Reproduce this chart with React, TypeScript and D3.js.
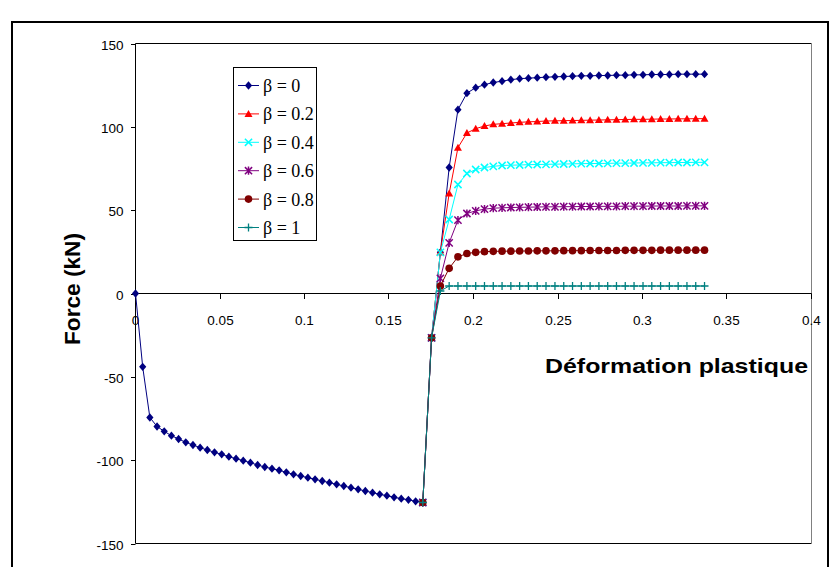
import React from "react";
import * as d3 from "d3";

// ---- data ----
const loadX = [0, 0.00425, 0.0085, 0.01275, 0.017, 0.02125, 0.0255, 0.02975, 0.034, 0.03825, 0.0425, 0.04675, 0.051, 0.05525, 0.0595, 0.06375, 0.068, 0.07225, 0.0765, 0.08075, 0.085, 0.08925, 0.0935, 0.09775, 0.102, 0.10625, 0.1105, 0.11475, 0.119, 0.12325, 0.1275, 0.13175, 0.136, 0.14025, 0.1445, 0.14875, 0.153, 0.15725, 0.1615, 0.16575, 0.17];
const loadY = [0, -44, -74.4, -79.8, -82.7, -85.3, -87.3, -89.3, -90.9, -92.5, -93.9, -95.3, -96.5, -97.9, -99.1, -100.3, -101.5, -102.9, -104.1, -105.1, -106.1, -107.3, -108.5, -109.5, -110.5, -111.5, -112.5, -113.5, -114.5, -115.5, -116.5, -117.5, -118.5, -119.5, -120.5, -121.3, -122.3, -123.1, -123.8, -124.7, -125.4];
const reloadX = [0.17, 0.1752, 0.1804, 0.1856, 0.1908, 0.1961, 0.2013, 0.2065, 0.2117, 0.2169, 0.2221, 0.2273, 0.2325, 0.2377, 0.2429, 0.2482, 0.2534, 0.2586, 0.2638, 0.269, 0.2742, 0.2794, 0.2846, 0.2898, 0.295, 0.3003, 0.3055, 0.3107, 0.3159, 0.3211, 0.3263, 0.3315, 0.3367];
const beta0 = [-125.4, -26.6, 24.7, 75.6, 110.3, 120.2, 123.5, 125.3, 126.6, 127.4, 128.3, 128.9, 129.2, 129.5, 129.8, 130.0, 130.2, 130.4, 130.6, 130.6, 130.8, 130.8, 131.0, 131.0, 131.2, 131.2, 131.4, 131.4, 131.4, 131.6, 131.6, 131.6, 131.6];
const beta02 = [-125.4, -26.6, 24.7, 60, 87.5, 96.3, 98.9, 100.5, 101.5, 101.9, 102.3, 102.7, 103.0, 103.2, 103.5, 103.6, 103.7, 103.8, 103.9, 104.0, 104.1, 104.2, 104.3, 104.4, 104.5, 104.5, 104.6, 104.7, 104.7, 104.8, 104.8, 104.9, 104.9];
const beta04 = [-125.4, -26.6, 24.7, 44.4, 65.4, 72, 74.4, 75.6, 76.3, 76.8, 77.0, 77.1, 77.3, 77.4, 77.5, 77.6, 77.7, 77.8, 77.9, 78.0, 78.0, 78.1, 78.2, 78.2, 78.3, 78.4, 78.4, 78.5, 78.5, 78.6, 78.6, 78.7, 78.7];
const beta06 = [-125.4, -26.6, 9.1, 30.4, 44, 48, 49.6, 50.6, 51.2, 51.4, 51.6, 51.7, 51.8, 51.9, 52.0, 52.0, 52.1, 52.1, 52.2, 52.2, 52.3, 52.3, 52.3, 52.4, 52.4, 52.4, 52.5, 52.5, 52.5, 52.5, 52.6, 52.6, 52.6];
const beta08 = [-125.4, -26.6, 4.5, 15.1, 22, 24, 24.7, 25.1, 25.3, 25.4, 25.4, 25.5, 25.5, 25.6, 25.6, 25.6, 25.7, 25.7, 25.7, 25.8, 25.8, 25.8, 25.8, 25.9, 25.9, 25.9, 25.9, 26.0, 26.0, 26.0, 26.0, 26.0, 26.0];
const beta1 = [-125.4, -26.6, 1.5, 4.5, 4.5, 4.5, 4.5, 4.5, 4.5, 4.5, 4.5, 4.5, 4.5, 4.5, 4.5, 4.5, 4.5, 4.5, 4.5, 4.5, 4.5, 4.5, 4.5, 4.5, 4.5, 4.5, 4.5, 4.5, 4.5, 4.5, 4.5, 4.5, 4.5];
const seriesNames = ["β = 0", "β = 0.2", "β = 0.4", "β = 0.6", "β = 0.8", "β = 1"];
const xTicks = [0, 0.05, 0.1, 0.15, 0.2, 0.25, 0.3, 0.35, 0.4];
const xTickLabels = ["0", "0.05", "0.1", "0.15", "0.2", "0.25", "0.3", "0.35", "0.4"];
const yTicks = [150, 100, 50, 0, -50, -100, -150];

const colors = ["#000080", "#FF0000", "#00FFFF", "#800080", "#800000", "#008080"];
const markers = ["diamond", "triangle", "x", "star", "circle", "plus"];

type Pt = [number, number];

function Marker({ kind, x, y, color }: { kind: string; x: number; y: number; color: string }) {
  const s = 3.6;
  switch (kind) {
    case "diamond":
      return <path d={`M${x},${y - 4.2}L${x + 3.6},${y}L${x},${y + 4.2}L${x - 3.6},${y}Z`} fill={color} />;
    case "triangle":
      return <path d={`M${x},${y - 4}L${x + 4},${y + 3}L${x - 4},${y + 3}Z`} fill={color} />;
    case "x":
      return <path d={`M${x - s},${y - s}L${x + s},${y + s}M${x - s},${y + s}L${x + s},${y - s}`} stroke={color} strokeWidth={1.5} fill="none" />;
    case "star":
      return <path d={`M${x - s},${y - s}L${x + s},${y + s}M${x - s},${y + s}L${x + s},${y - s}M${x},${y - s - 0.5}L${x},${y + s + 0.5}`} stroke={color} strokeWidth={1.5} fill="none" />;
    case "circle":
      return <circle cx={x} cy={y} r={3.8} fill={color} />;
    case "plus":
    default:
      return <path d={`M${x - 4},${y}L${x + 4},${y}M${x},${y - 4}L${x},${y + 4}`} stroke={color} strokeWidth={1.3} fill="none" />;
  }
}

export default function App() {
  const W = 830, H = 567;
  const x = d3.scaleLinear().domain([0, 0.4]).range([135.5, 811.5]);
  const y = d3.scaleLinear().domain([-150, 150]).range([543.5, 43.5]);
  const line = d3.line<Pt>().x((d) => x(d[0])).y((d) => y(d[1]));

  const reloadSets = [beta0, beta02, beta04, beta06, beta08, beta1];
  const series: Pt[][] = reloadSets.map((vals, k) => {
    const pts: Pt[] = vals.map((v, i) => [reloadX[i], v]);
    if (k === 0) {
      const neg: Pt[] = loadY.map((v, i) => [loadX[i], v]);
      return neg.concat(pts.slice(1));
    }
    return pts;
  });

  const font = "'Liberation Sans', Arial, sans-serif";
  const legX = 233.5, legY = 67.5, legStep = 28.4;

  return (
    <svg width={W} height={H} style={{ position: "absolute", left: 0, top: 0, background: "#fff" }} fontFamily={font}>
      <rect x={0} y={0} width={W} height={H} fill="#fff" />
      {/* outer chart frame */}
      <rect x={12} y={22} width={816} height={600} fill="none" stroke="#000" strokeWidth={2} />
      {/* plot area border */}
      <line x1={135.5} x2={811.5} y1={43.5} y2={43.5} stroke="#000" />
      <line x1={135.5} x2={811.5} y1={543.5} y2={543.5} stroke="#000" />
      <line x1={811.5} x2={811.5} y1={43.5} y2={543.5} stroke="#808080" />
      <line x1={135.5} x2={135.5} y1={43.5} y2={543.5} stroke="#000" />
      {/* y ticks */}
      {yTicks.map((t) => {
        const yy = Math.round(y(t)) + 0.5;
        return (
          <g key={"y" + t}>
            <line x1={131} x2={135.5} y1={yy} y2={yy} stroke="#000" />
            <text x={123.5} y={yy + 5} textAnchor="end" fontSize={13.5} fill="#000">{t}</text>
          </g>
        );
      })}
      {/* x axis */}
      <line x1={135.5} x2={811.5} y1={y(0)} y2={y(0)} stroke="#000" />
      {xTicks.map((t, i) => {
        const xx = Math.round(x(t) - 0.5) + 0.5;
        return (
          <g key={"x" + t}>
            <line x1={xx} x2={xx} y1={y(0)} y2={y(0) + 5.5} stroke="#000" />
            <text x={xx} y={325} textAnchor="middle" fontSize={13.5} fill="#000">{xTickLabels[i]}</text>
          </g>
        );
      })}
      {/* series */}
      {series.map((pts, k) => (
        <g key={"s" + k}>
          <path d={line(pts) || ""} fill="none" stroke={colors[k]} strokeWidth={1} />
          {pts.map((p, i) => (
            <Marker key={i} kind={markers[k]} x={x(p[0])} y={y(p[1])} color={colors[k]} />
          ))}
        </g>
      ))}
      {/* axis titles */}
      <text x={545} y={373} fontSize={21} fontWeight="bold" textLength={263} lengthAdjust="spacingAndGlyphs" fill="#000">Déformation plastique</text>
      <text transform="translate(80,289) rotate(-90)" textAnchor="middle" fontSize={22} fontWeight="bold" textLength={112} lengthAdjust="spacingAndGlyphs" fill="#000">Force (kN)</text>
      {/* legend */}
      <rect x={legX} y={legY} width={83} height={173} fill="#fff" stroke="#000" strokeWidth={1} />
      {seriesNames.map((n, k) => {
        const cy = 85.5 + k * legStep;
        return (
          <g key={"l" + k}>
            <line x1={238} x2={259} y1={cy} y2={cy} stroke={colors[k]} strokeWidth={1} />
            <Marker kind={markers[k]} x={248.5} y={cy} color={colors[k]} />
            <text x={263} y={cy + 6.5} fontSize={18} fontFamily="'Liberation Serif', 'Times New Roman', serif" fill="#000">{n}</text>
          </g>
        );
      })}
    </svg>
  );
}
